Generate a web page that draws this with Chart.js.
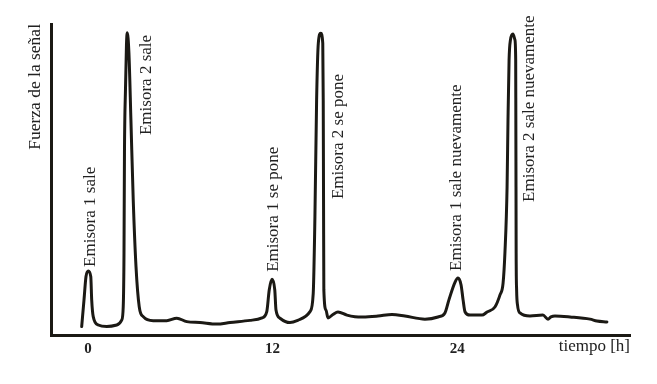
<!DOCTYPE html>
<html>
<head>
<meta charset="utf-8">
<script src="https://cdn.jsdelivr.net/npm/chart.js@4.4.0/dist/chart.umd.min.js"></script>
<style>
html,body{margin:0;padding:0;background:#ffffff;}
canvas{display:block;}
</style>
</head>
<body>
<canvas id="c" width="657" height="384"></canvas>
<script>
// ---- data ----
const timeHours = [
  -0.41, -0.26, -0.13, 0.02, 0.18, 0.24, 0.34, 0.67, 1.22, 1.87, 2.19, 2.29,
  2.34, 2.37, 2.44, 2.50, 2.55, 2.66, 2.79, 2.94, 3.12, 3.33, 3.59, 4.24,
  5.12, 5.77, 6.42, 7.28, 8.37, 9.23, 10.53, 11.31, 11.62, 11.78, 11.96, 12.14,
  12.22, 12.48, 13.13, 13.78, 14.43, 14.64, 14.75, 14.86, 14.97, 15.13, 15.26, 15.29,
  15.31, 15.33, 15.47, 15.60, 15.92, 16.25, 16.83, 17.35, 17.87, 18.85, 19.76, 20.60,
  21.90, 22.75, 23.20, 23.46, 23.86, 24.05, 24.25, 24.38, 24.51, 24.83, 25.61, 25.94,
  26.45, 26.78, 26.98, 27.10, 27.24, 27.30, 27.37, 27.46, 27.62, 27.75, 27.80, 27.81,
  27.82, 27.83, 27.86, 27.92, 28.08, 28.73, 29.57, 29.90, 30.09, 30.35, 31.33, 32.63,
  33.08, 33.73
];
const signalStrength = [
  2.7, 11.3, 18.8, 20.6, 18.8, 11.3, 5.9, 3.2, 2.7, 3.2, 4.8, 9.1,
  26.4, 58.5, 79.7, 93.2, 97.2, 90.7, 69.1, 43.4, 22.0, 9.1, 5.9, 4.6,
  4.6, 5.4, 4.3, 4.0, 3.5, 4.0, 4.7, 5.5, 7.5, 14.5, 17.9, 14.5,
  8.0, 5.4, 4.0, 5.0, 7.5, 13.4, 38.0, 75.6, 93.8, 97.0, 93.8, 75.6,
  43.4, 14.5, 8.0, 5.5, 6.6, 7.4, 6.4, 5.9, 5.8, 6.1, 6.6, 6.1,
  5.1, 5.8, 7.1, 11.3, 17.0, 18.3, 16.1, 11.3, 7.4, 6.4, 6.4, 7.4,
  9.0, 12.9, 16.7, 26.4, 47.6, 69.1, 88.4, 94.9, 96.8, 94.9, 88.4, 69.1,
  47.6, 26.4, 14.5, 9.6, 7.1, 6.1, 6.4, 5.1, 5.8, 6.1, 5.8, 5.1,
  4.5, 4.2
];
const tickValues = [0, 12, 24];
const tickLabels = ['0', '12', '24'];
const xAxisLabel = 'tiempo [h]';
const yAxisLabel = 'Fuerza de la señal';
const annotationTexts = [
  'Emisora 1 sale',
  'Emisora 2 sale',
  'Emisora 1 se pone',
  'Emisora 2 se pone',
  'Emisora 1 sale nuevamente',
  'Emisora 2 sale nuevamente'
];
const annotationTimes = [0.15, 3.8, 12.08, 16.3, 23.98, 28.68];
const annotationLevels = [21.9, 64.3, 20.3, 43.7, 20.6, 42.8];

// ---- chart ----
const INK = '#1b1914';
const TEXT = '#222222';
const SERIF = '"Liberation Serif", "DejaVu Serif", serif';

const points = timeHours.map((t, i) => ({x: t, y: signalStrength[i]}));

const annotationPlugin = {
  id: 'rotatedNotes',
  afterDatasetsDraw(chart) {
    const {ctx, scales} = chart;
    ctx.save();
    ctx.fillStyle = TEXT;
    ctx.font = '17px ' + SERIF;
    ctx.textAlign = 'left';
    ctx.textBaseline = 'middle';
    annotationTexts.forEach((txt, i) => {
      const px = scales.x.getPixelForValue(annotationTimes[i]);
      const py = scales.y.getPixelForValue(annotationLevels[i]);
      ctx.save();
      ctx.translate(px, py);
      ctx.rotate(-Math.PI / 2);
      ctx.fillText(txt, 0, 0);
      ctx.restore();
    });
    ctx.restore();
  }
};

new Chart(document.getElementById('c'), {
  type: 'line',
  data: {
    datasets: [{
      data: points,
      borderColor: INK,
      borderWidth: 3,
      pointRadius: 0,
      fill: false,
      cubicInterpolationMode: 'monotone',
      borderCapStyle: 'round',
      borderJoinStyle: 'round'
    }]
  },
  options: {
    responsive: false,
    animation: false,
    layout: {padding: {top: 24, right: 27, left: 0, bottom: 0}},
    plugins: {legend: {display: false}, tooltip: {enabled: false}},
    scales: {
      x: {
        type: 'linear',
        min: -2.405,
        max: 35.23,
        grid: {display: false},
        border: {display: true, width: 3, color: INK},
        afterBuildTicks: (scale) => { scale.ticks = tickValues.map(v => ({value: v})); },
        afterFit: (scale) => { scale.height = 49; },
        ticks: {
          autoSkip: false,
          maxRotation: 0,
          padding: -3,
          color: TEXT,
          font: {family: SERIF, size: 15, weight: 'bold'},
          callback: (v) => { const k = tickValues.indexOf(v); return k >= 0 ? tickLabels[k] : ''; }
        },
        title: {
          display: true,
          text: xAxisLabel,
          align: 'end',
          color: TEXT,
          font: {family: SERIF, size: 17},
          padding: {top: 0, bottom: 27}
        }
      },
      y: {
        type: 'linear',
        min: 0,
        max: 100,
        grid: {display: false},
        border: {display: true, width: 3, color: INK},
        afterFit: (scale) => { scale.width = 51; },
        ticks: {display: false},
        title: {
          display: true,
          text: yAxisLabel,
          align: 'end',
          color: TEXT,
          font: {family: SERIF, size: 17.5},
          padding: {top: 24.5, bottom: 0}
        }
      }
    }
  },
  plugins: [annotationPlugin]
});
</script>
</body>
</html>
